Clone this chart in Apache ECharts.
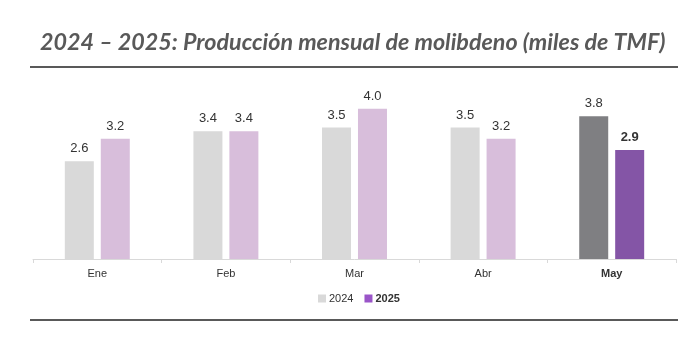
<!DOCTYPE html>
<html>
<head>
<meta charset="utf-8">
<script src="https://cdn.jsdelivr.net/npm/echarts@6/dist/echarts.min.js"></script>
<style>
  html, body { margin: 0; padding: 0; background: #fff; }
  #chart { width: 693px; height: 354px; }
</style>
</head>
<body>
<div id="chart"></div>
<script>
// datos
var meses = ['Ene', 'Feb', 'Mar', 'Abr', 'May'];
var prod2024 = [2.6, 3.4, 3.5, 3.5, 3.8];
var prod2025 = [3.2, 3.4, 4.0, 3.2, 2.9];

var ultimo = meses.length - 1;

function barras(valores, colorUltimo, negrita) {
    return valores.map(function (v, i) {
        if (i !== ultimo) return v;
        return {
            value: v,
            itemStyle: { color: colorUltimo },
            label: { fontWeight: negrita ? 'bold' : 'normal' }
        };
    });
}

var myChart = echarts.init(document.getElementById('chart'));

var option = {
    animation: false,
    title: {
        text: '2024 – 2025: Producción mensual de molibdeno (miles de TMF)',
        left: 35,
        top: 26,
        textStyle: {
            fontFamily: 'Lato',
            fontStyle: 'italic',
            fontWeight: 'bold',
            fontSize: 23.3,
            color: '#595959'
        }
    },
    graphic: [
        { type: 'rect', shape: { x: 30, y: 66, width: 648, height: 2 }, style: { fill: '#595959' } },
        { type: 'rect', shape: { x: 30, y: 319, width: 648, height: 2 }, style: { fill: '#595959' } }
    ],
    legend: {
        left: 313,
        top: 288,
        itemWidth: 8,
        itemHeight: 8,
        itemGap: 11,
        icon: 'rect',
        textStyle: {
            fontFamily: 'Liberation Sans',
            fontSize: 11,
            color: '#333',
            padding: [0, 0, 0, -2],
            rich: { b: { fontFamily: 'Liberation Sans', fontSize: 11, fontWeight: 'bold', color: '#333' } }
        },
        formatter: function (name) {
            return name === '2025' ? '{b|2025}' : name;
        },
        data: [
            { name: '2024', itemStyle: { color: '#d9d9d9' } },
            { name: '2025', itemStyle: { color: '#9a55c8' } }
        ]
    },
    grid: {
        left: 33,
        right: 17,
        top: 90,
        bottom: 95
    },
    xAxis: {
        type: 'category',
        data: meses,
        axisLine: { lineStyle: { color: '#d9d9d9', width: 1 } },
        axisTick: { show: true, length: 4, lineStyle: { color: '#d9d9d9' } },
        axisLabel: {
            margin: 9,
            fontFamily: 'Liberation Sans',
            fontSize: 11,
            color: '#333',
            formatter: function (v, i) {
                return i === ultimo ? '{b|' + v + '}' : v;
            },
            rich: { b: { fontFamily: 'Liberation Sans', fontSize: 11, fontWeight: 'bold', color: '#333' } }
        }
    },
    yAxis: {
        type: 'value',
        min: 0,
        max: 4.5,
        show: false,
        splitLine: { show: false }
    },
    series: [
        {
            name: '2024',
            type: 'bar',
            barWidth: 29,
            barGap: '24%',
            itemStyle: { color: '#d9d9d9' },
            label: {
                show: true,
                position: 'top',
                distance: 6,
                fontFamily: 'Liberation Sans',
                fontSize: 13,
                color: '#333',
                formatter: function (p) { return p.value.toFixed(1); }
            },
            data: barras(prod2024, '#7f7f82', false)
        },
        {
            name: '2025',
            type: 'bar',
            barWidth: 29,
            itemStyle: { color: '#d8bedb' },
            label: {
                show: true,
                position: 'top',
                distance: 6,
                fontFamily: 'Liberation Sans',
                fontSize: 13,
                color: '#333',
                formatter: function (p) { return p.value.toFixed(1); }
            },
            data: barras(prod2025, '#8455a6', true)
        }
    ]
};

myChart.setOption(option);
</script>
</body>
</html>
